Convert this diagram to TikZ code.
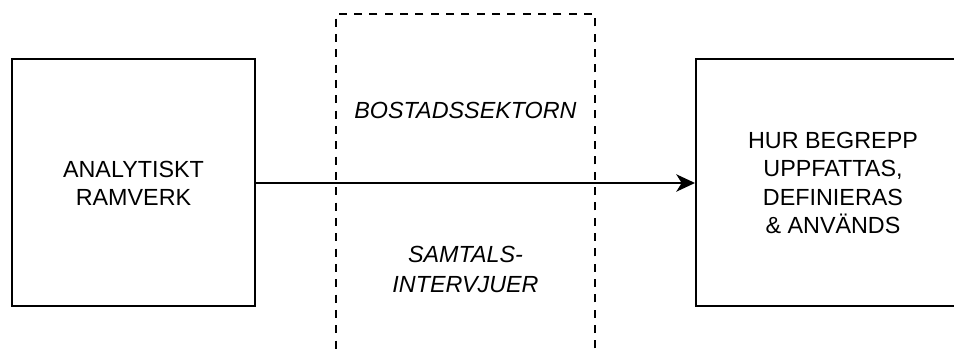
\documentclass[tikz,border=0pt]{standalone}
\usepackage{fontspec}
\setmainfont{Liberation Sans}
\usetikzlibrary{arrows.meta}
\begin{document}
\begin{tikzpicture}[x=0.75pt, y=-0.75pt,
		label text/.style={align=center, inner sep=0pt, font=\fontsize{17.5pt}{21.2pt}\selectfont},
		box/.style={label text, draw, line width=1.5pt},
		frame/.style={draw, line width=1.5pt, dash pattern=on 6pt off 5.5pt, inner sep=0pt}]
		\useasboundingbox (0,0) rectangle (954,349);
		\clip (0,0) rectangle (954,349);
		
		\node[box, minimum width=182.25pt, minimum height=185.25pt] (ramverk) at (133.5,183) {ANALYTISKT\\RAMVERK};
		\node[box, minimum width=205.5pt, minimum height=185.25pt] (begrepp) at (833,183) {HUR BEGREPP\\UPPFATTAS,\\DEFINIERAS\\\& ANVÄNDS};
		\node[frame, minimum width=194.25pt, minimum height=252pt] (sektor) at (465.5,182) {};
		\node[label text, font=\fontsize{17.5pt}{21.2pt}\selectfont\itshape] (bostad) at (465.5,110) {BOSTADSSEKTORN};
		\node[label text, font=\fontsize{17.5pt}{22pt}\selectfont\itshape] (samtal) at (465.5,269.5) {SAMTALS-\\INTERVJUER};
		
		\draw[-{Stealth[length=14pt, width=13pt, inset=4pt]}, line width=1.5pt] (ramverk.east) -- (begrepp.west);
	\end{tikzpicture}
\end{document}
